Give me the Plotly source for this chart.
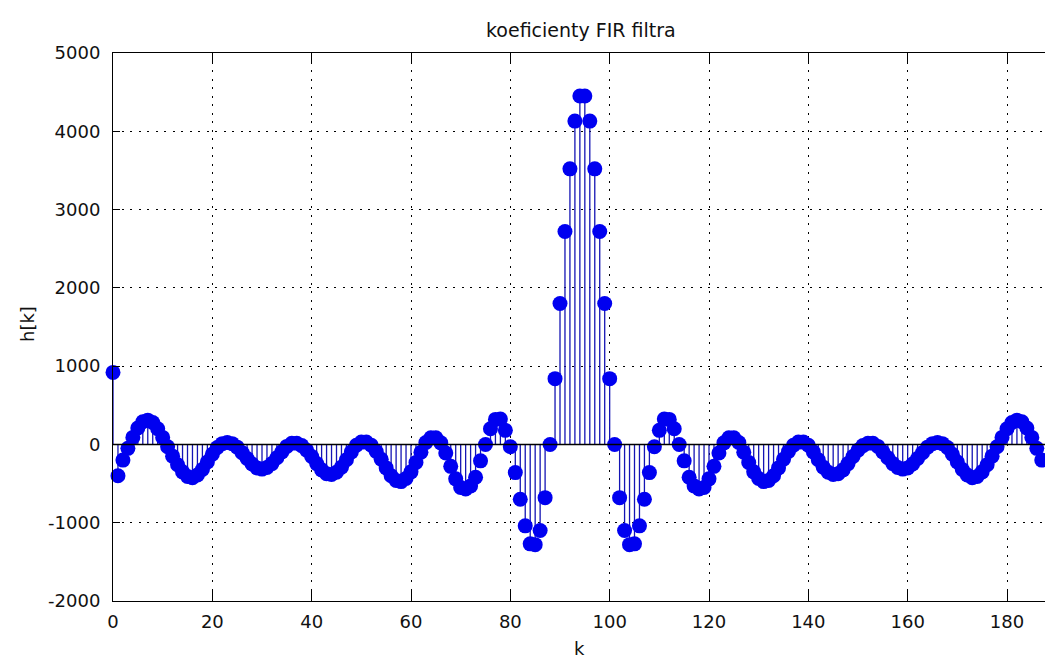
import plotly.graph_objects as go

# FIR filter coefficients h[k], k = 0..189
k_index = list(range(190))
h_coeffs = [
    920, -400, -200, -50, 90, 210, 290, 310, 280, 200,
    90, -30, -150, -260, -350, -410, -425, -390, -320, -225,
    -125, -40, 10, 25, 10, -35, -105, -180, -250, -300,
    -315, -295, -245, -170, -95, -25, 15, 15, -15, -75,
    -155, -245, -325, -375, -385, -355, -290, -195, -95, -10,
    30, 30, -10, -90, -190, -300, -400, -460, -475, -435,
    -350, -230, -100, 25, 85, 85, 20, -110, -280, -440,
    -550, -570, -530, -420, -210, 0, 200, 320, 325, 180,
    -30, -360, -700, -1040, -1270, -1280, -1100, -680, 0, 840,
    1800, 2720, 3520, 4130, 4450,
    4450, 4130, 3520, 2720, 1800,
    840, 0, -680, -1100, -1280, -1270, -1040, -700, -360, -30,
    180, 325, 320, 200, 0, -210, -420, -530, -570, -550,
    -440, -280, -110, 20, 85, 85, 25, -100, -230, -350,
    -435, -475, -460, -400, -300, -190, -90, -10, 30, 30,
    -10, -95, -195, -290, -355, -385, -375, -325, -245, -155,
    -75, -15, 15, 15, -25, -95, -170, -245, -295, -315,
    -300, -250, -180, -105, -35, 10, 25, 10, -40, -125,
    -225, -320, -390, -425, -410, -350, -260, -150, -30, 90,
    200, 280, 310, 290, 210, 90, -50, -200, -400, 920,
]

x_ticks = [0, 20, 40, 60, 80, 100, 120, 140, 160, 180]
y_ticks = [-2000, -1000, 0, 1000, 2000, 3000, 4000, 5000]

title_text = "koeficienty FIR filtra"
x_label = "k"
y_label = "h[k]"

FONT = "DejaVu Sans"
STEM_COLOR = "#1414b4"
MARK_COLOR = "#0000f0"

# stem segments from the baseline up/down to each coefficient
stem_x, stem_y = [], []
for k, h in zip(k_index, h_coeffs):
    stem_x += [k, k, None]
    stem_y += [0, h, None]

fig = go.Figure()
fig.add_trace(go.Scatter(
    x=stem_x, y=stem_y, mode="lines",
    line=dict(color=STEM_COLOR, width=1.3),
    hoverinfo="skip", showlegend=False, cliponaxis=False,
))
fig.add_trace(go.Scatter(
    x=k_index, y=h_coeffs, mode="markers",
    marker=dict(color=MARK_COLOR, size=15, line=dict(width=0)),
    showlegend=False, cliponaxis=False,
))

# stem baseline
fig.add_shape(type="line", xref="paper", yref="y", x0=0, x1=1, y0=0, y1=0,
              line=dict(color="black", width=1.5), layer="above")

W, H = 1045, 661
L, R, T, B = 113, 0, 53, 60
pw, ph = W - L - R, H - T - B
x_max = pw / ((1007 - 113) / 180)

grid = dict(showgrid=True, gridcolor="#000000", gridwidth=1, griddash="2px,6.5px")

fig.update_layout(
    width=W, height=H,
    margin=dict(l=L, r=R, t=T, b=B, pad=0),
    paper_bgcolor="white", plot_bgcolor="white",
    font=dict(family=FONT, size=18, color="#111111"),
    xaxis=dict(
        range=[0, x_max], tickvals=x_ticks, ticktext=[str(v) for v in x_ticks],
        ticks="inside", ticklen=11, tickcolor="black", tickwidth=1,
        showline=True, linecolor="black", linewidth=1, mirror="ticks",
        zeroline=False, ticklabelstandoff=4, **grid,
    ),
    yaxis=dict(
        range=[-2000, 5000], tickvals=y_ticks, ticktext=[str(v) for v in y_ticks],
        ticks="inside", ticklen=7, tickcolor="black", tickwidth=1,
        showline=True, linecolor="black", linewidth=1, mirror=False,
        zeroline=False, ticklabelstandoff=8, **grid,
    ),
    annotations=[
        dict(text=title_text, xref="paper", yref="paper",
             x=(581 - L) / pw, y=1 + (T - 30) / ph, xanchor="center", yanchor="middle",
             showarrow=False, font=dict(family=FONT, size=19, color="#111111")),
        dict(text=x_label, xref="paper", yref="paper",
             x=(579 - L) / pw, y=-(648 - (T + ph)) / ph, xanchor="center", yanchor="middle",
             showarrow=False, font=dict(family=FONT, size=18, color="#111111")),
        dict(text=y_label, xref="paper", yref="paper", textangle=-90,
             x=(27 - L) / pw, y=1 - (324 - T) / ph, xanchor="center", yanchor="middle",
             showarrow=False, font=dict(family=FONT, size=18, color="#111111")),
    ],
)

fig.write_html("out.html")
